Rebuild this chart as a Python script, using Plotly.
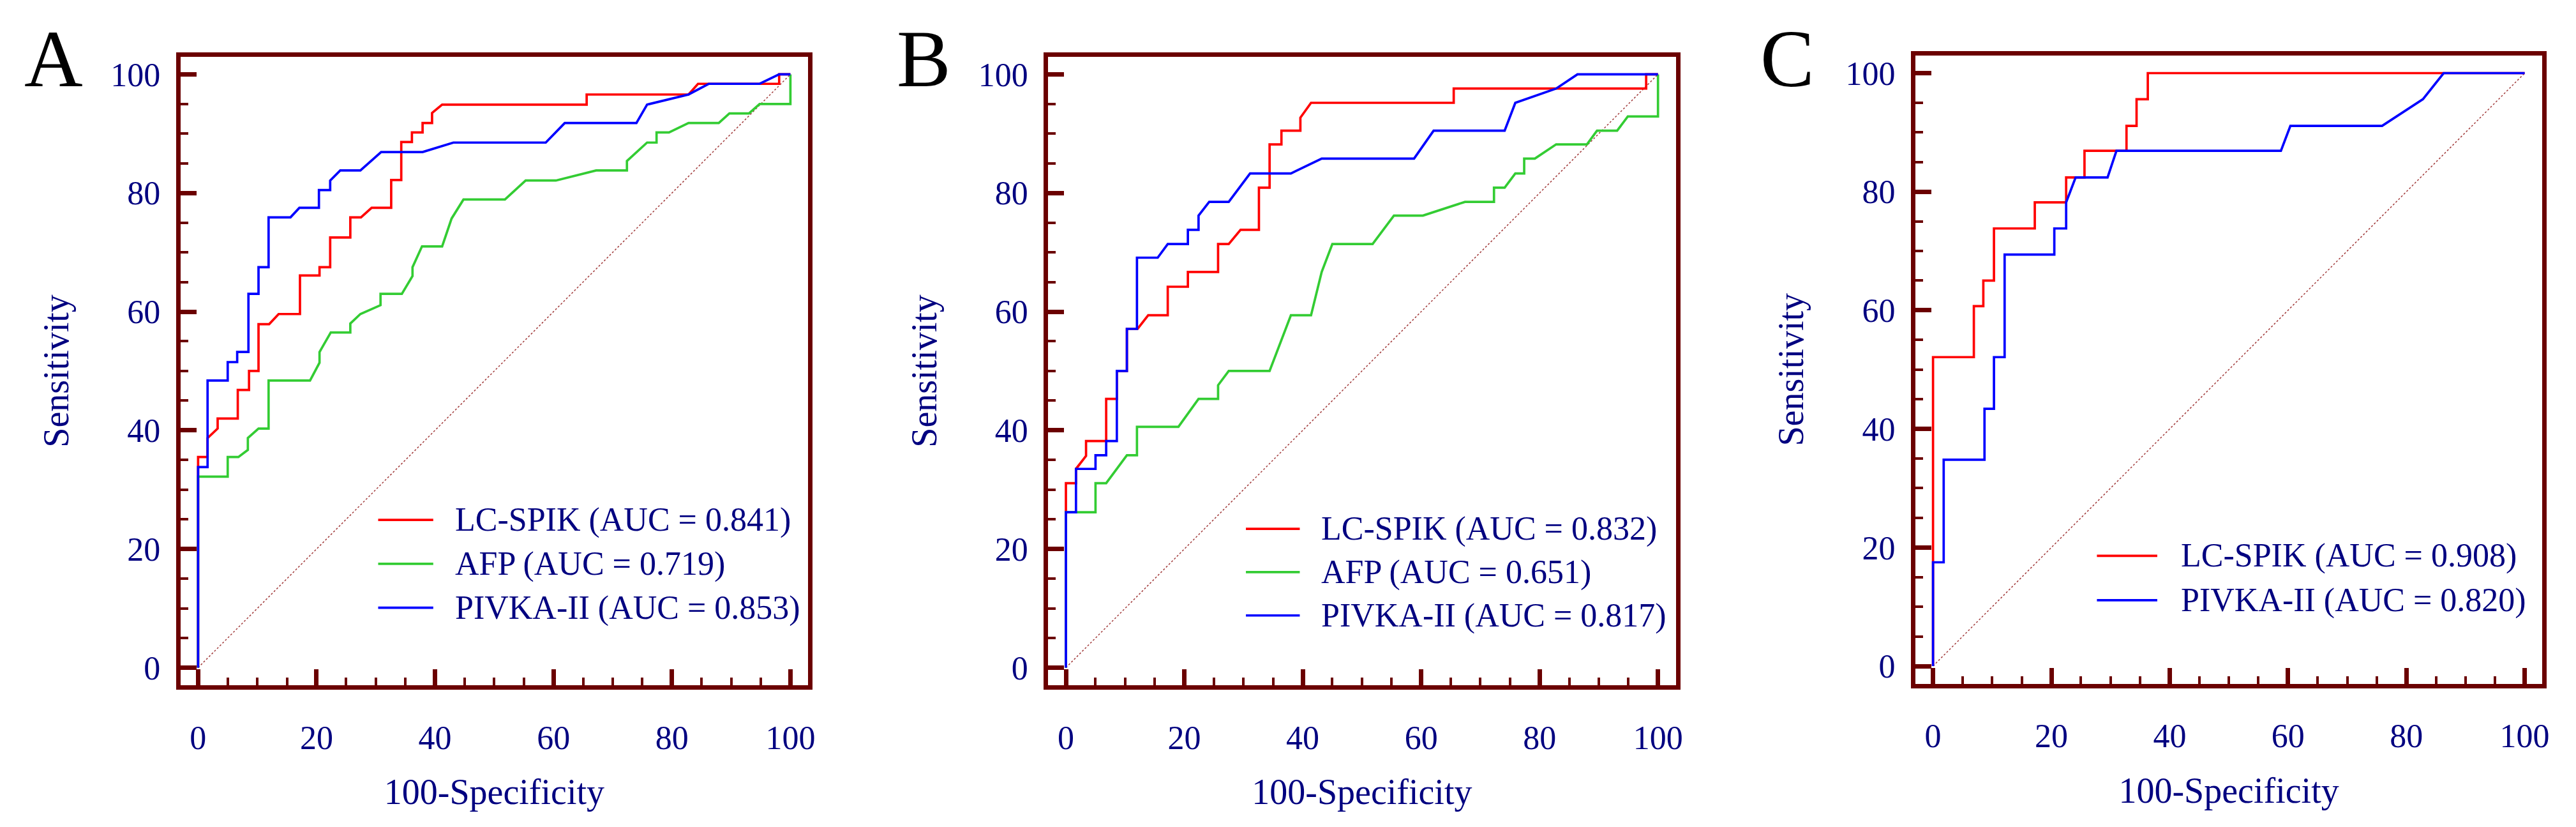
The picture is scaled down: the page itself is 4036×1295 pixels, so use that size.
import plotly.graph_objects as go

# ------------------------------------------------------------------ data
# Panel A
A_lc_x = [0, 0, 1.6, 1.6, 3.3, 3.3, 6.7, 6.7, 8.6, 8.6, 10.2, 10.2, 12.0, 13.6, 17.2, 17.2, 20.5, 20.5, 22.3, 22.3,
          25.7, 25.7, 27.5, 29.3, 32.6, 32.6, 34.3, 34.3, 36.1, 36.1, 37.9, 37.9, 39.5, 39.5, 41.2, 65.6, 65.6,
          82.8, 84.4, 98.1, 98.1, 100]
A_lc_y = [0, 35.5, 35.5, 38.7, 40.3, 42.0, 42.0, 46.8, 46.8, 50.0, 50.0, 57.9, 57.9, 59.6, 59.6, 66.1, 66.1, 67.5,
          67.5, 72.5, 72.5, 75.9, 75.9, 77.5, 77.5, 82.2, 82.2, 88.6, 88.6, 90.2, 90.2, 91.8, 91.8, 93.5, 94.9,
          94.9, 96.6, 96.6, 98.4, 98.4, 100, 100]
A_afp_x = [0, 0, 5.0, 5.0, 6.8, 8.4, 8.4, 10.2, 11.9, 11.9, 18.9, 20.5, 20.5, 22.4, 25.7, 25.7, 27.4, 30.8, 30.8,
           34.4, 36.2, 36.2, 37.8, 41.2, 42.8, 44.8, 51.8, 55.3, 60.4, 67.2, 72.4, 72.4, 75.8, 77.4, 77.4, 79.5,
           82.8, 87.9, 89.7, 93.0, 94.8, 100, 100]
A_afp_y = [0, 32.2, 32.2, 35.5, 35.5, 36.7, 38.7, 40.3, 40.3, 48.4, 48.4, 51.4, 53.2, 56.5, 56.5, 58.0, 59.6, 61.1,
           63.0, 63.0, 66.0, 67.5, 71.0, 71.0, 75.7, 78.9, 78.9, 82.1, 82.1, 83.8, 83.8, 85.4, 88.5, 88.5, 90.2,
           90.2, 91.8, 91.8, 93.4, 93.4, 95.0, 95.0, 100]
A_piv_x = [0, 0, 1.6, 1.6, 5.0, 5.0, 6.6, 6.6, 8.5, 8.5, 10.2, 10.2, 11.9, 11.9, 15.6, 17.1, 20.4, 20.4, 22.3, 22.3,
           24.0, 27.4, 30.9, 37.9, 43.1, 58.7, 61.9, 74.0, 75.8, 82.8, 86.2, 94.8, 98.1, 100]
A_piv_y = [0, 33.8, 33.8, 48.4, 48.4, 51.5, 51.5, 53.2, 53.2, 63.0, 63.0, 67.5, 67.5, 75.9, 75.9, 77.5, 77.5, 80.5,
           80.5, 82.1, 83.8, 83.8, 86.9, 86.9, 88.5, 88.5, 91.8, 91.8, 94.9, 96.6, 98.4, 98.4, 100, 100]

# Panel B
B_lc_x = [0, 0, 1.7, 1.7, 3.4, 3.4, 6.8, 6.8, 8.6, 8.6, 10.3, 10.3, 12.1, 13.9, 17.2, 17.2, 20.6, 20.6, 25.7, 25.7,
          27.5, 29.5, 32.6, 32.6, 34.4, 34.4, 36.4, 36.4, 39.6, 39.6, 41.4, 65.5, 65.5, 98.0, 98.0, 100]
B_lc_y = [0, 31.1, 31.1, 33.5, 35.7, 38.2, 38.2, 45.3, 45.3, 50.0, 50.0, 57.1, 57.1, 59.4, 59.4, 64.2, 64.2, 66.7,
          66.7, 71.4, 71.4, 73.8, 73.8, 80.9, 80.9, 88.2, 88.2, 90.5, 90.5, 92.7, 95.2, 95.2, 97.6, 97.6, 100, 100]
B_afp_x = [0, 0, 5.0, 5.0, 6.8, 10.3, 12.0, 12.0, 19.0, 22.4, 25.7, 25.7, 27.5, 34.4, 38.0, 41.4, 43.2, 45.0, 51.8,
           55.4, 60.3, 67.4, 72.3, 72.3, 74.1, 75.9, 77.4, 77.4, 79.2, 82.8, 88.0, 89.7, 93.1, 94.9, 100, 100]
B_afp_y = [0, 26.2, 26.2, 31.1, 31.1, 35.8, 35.8, 40.6, 40.6, 45.3, 45.3, 47.6, 50.0, 50.0, 59.4, 59.4, 66.7, 71.4,
           71.4, 76.2, 76.2, 78.5, 78.5, 80.9, 80.9, 83.3, 83.3, 85.8, 85.8, 88.2, 88.2, 90.5, 90.5, 92.9, 92.9, 100]
B_piv_x = [0, 0, 1.7, 1.7, 5.0, 5.0, 6.8, 6.8, 8.6, 8.6, 10.3, 10.3, 12.0, 12.0, 15.5, 17.2, 20.6, 20.6, 22.4, 22.4,
           24.2, 27.5, 31.1, 38.0, 43.2, 58.8, 62.1, 74.1, 75.9, 82.8, 86.4, 100]
B_piv_y = [0, 26.2, 26.2, 33.5, 33.5, 35.8, 35.8, 38.2, 38.2, 50.0, 50.0, 57.1, 57.1, 69.1, 69.1, 71.4, 71.4, 73.8,
           73.8, 76.2, 78.5, 78.5, 83.3, 83.3, 85.8, 85.8, 90.5, 90.5, 95.2, 97.6, 100, 100]

# Panel C
C_lc_x = [0, 0, 6.9, 6.9, 8.5, 8.5, 10.3, 10.3, 17.2, 17.2, 22.5, 22.5, 25.6, 25.6, 32.7, 32.7, 34.4, 34.4, 36.3,
          36.3, 100]
C_lc_y = [0, 52.1, 52.1, 60.7, 60.7, 65.0, 65.0, 73.8, 73.8, 78.2, 78.2, 82.4, 82.4, 86.9, 86.9, 91.1, 91.1, 95.6,
          95.6, 100, 100]
C_piv_x = [0, 0, 1.8, 1.8, 8.7, 8.7, 10.3, 10.3, 12.1, 12.1, 20.5, 20.5, 22.5, 22.5, 24.1, 29.5, 31.0, 58.8, 60.4,
           75.9, 82.8, 86.3, 100]
C_piv_y = [0, 17.5, 17.5, 34.8, 34.8, 43.4, 43.4, 52.1, 52.1, 69.4, 69.4, 73.8, 73.8, 78.2, 82.4, 82.4, 86.9, 86.9,
           91.1, 91.1, 95.6, 100, 100]

A_labels = ["LC-SPIK (AUC = 0.841)", "AFP (AUC = 0.719)", "PIVKA-II (AUC = 0.853)"]
B_labels = ["LC-SPIK (AUC = 0.832)", "AFP (AUC = 0.651)", "PIVKA-II (AUC = 0.817)"]
C_labels = ["LC-SPIK (AUC = 0.908)", "PIVKA-II (AUC = 0.820)"]

diag_x = [0, 100]
diag_y = [0, 100]
tick_vals = [0, 20, 40, 60, 80, 100]
panel_letters = ["A", "B", "C"]
x_title = "100-Specificity"
y_title = "Sensitivity"

# ------------------------------------------------------------------ style
W, H = 4036, 1295
RED, GREEN, BLUE = "#FF0000", "#33CC33", "#0000FF"
FRAME = "#6B0000"
NAVY = "#000080"
FONT = "Liberation Serif"
LW = 3.7

# plot-area inner edges in pixels: (left, right, top, bottom)
boxes = [(283.3, 1269.7, 88.6, 1074.2),
         (1646.7, 2632.7, 88.6, 1074.2),
         (3009.0, 3994.3, 86.7, 1071.7)]

panels = [
    dict(series=[(A_lc_x, A_lc_y, RED), (A_afp_x, A_afp_y, GREEN), (A_piv_x, A_piv_y, BLUE)],
         labels=A_labels, colors=[RED, GREEN, BLUE],
         leg=dict(x0=30.4, x1=39.7, xt=43.2, rows=[24.9, 17.5, 10.1])),
    dict(series=[(B_lc_x, B_lc_y, RED), (B_afp_x, B_afp_y, GREEN), (B_piv_x, B_piv_y, BLUE)],
         labels=B_labels, colors=[RED, GREEN, BLUE],
         leg=dict(x0=30.4, x1=39.5, xt=42.9, rows=[23.4, 16.1, 8.8])),
    dict(series=[(C_lc_x, C_lc_y, RED), (C_piv_x, C_piv_y, BLUE)],
         labels=C_labels, colors=[RED, BLUE],
         leg=dict(x0=27.7, x1=37.9, xt=41.7, rows=[18.6, 11.1])),
]
letter_x = [84, 1451, 2808]
letter_y = 92

fig = go.Figure()
shapes = []
annotations = []
layout = dict(width=W, height=H, margin=dict(l=0, r=0, t=0, b=0),
              paper_bgcolor="white", plot_bgcolor="white", showlegend=False)

for i, p in enumerate(panels):
    sfx = "" if i == 0 else str(i + 1)
    xr, yr = "x" + sfx, "y" + sfx
    l, r, t, b = boxes[i]
    common = dict(range=[-3, 103], showgrid=False, zeroline=False, showline=True, mirror=True,
                  linecolor=FRAME, linewidth=7, ticks="inside", ticklen=25, tickwidth=6.5,
                  tickcolor=FRAME, tickvals=tick_vals,
                  minor=dict(ticks="inside", tick0=0, dtick=5, ticklen=12, tickwidth=4,
                             tickcolor=FRAME, showgrid=False),
                  tickfont=dict(family=FONT, size=52, color=NAVY), fixedrange=True)
    layout["xaxis" + sfx] = dict(common, domain=[l / W, r / W], anchor=yr,
                                 ticklabelstandoff=30,
                                 title=dict(text=x_title, font=dict(family=FONT, size=56, color=NAVY),
                                            standoff=40))
    layout["yaxis" + sfx] = dict(common, domain=[(H - b) / H, (H - t) / H], anchor=xr,
                                 ticklabelstandoff=14,
                                 title=dict(text=y_title, font=dict(family=FONT, size=56, color=NAVY),
                                            standoff=50))
    # chance diagonal
    fig.add_trace(go.Scatter(x=diag_x, y=diag_y, mode="lines", xaxis=xr, yaxis=yr,
                             line=dict(color="#A03838", width=1.5, dash="dot"), hoverinfo="skip"))
    for (sx, sy, col), name in zip(p["series"], p["labels"]):
        fig.add_trace(go.Scatter(x=sx, y=sy, mode="lines", xaxis=xr, yaxis=yr, name=name,
                                 line=dict(color=col, width=LW)))
    lg = p["leg"]
    for name, col, ry in zip(p["labels"], p["colors"], lg["rows"]):
        shapes.append(dict(type="line", xref=xr, yref=yr, x0=lg["x0"], x1=lg["x1"], y0=ry, y1=ry,
                           line=dict(color=col, width=LW)))
        annotations.append(dict(xref=xr, yref=yr, x=lg["xt"], y=ry, text=name, showarrow=False,
                                xanchor="left", yanchor="middle",
                                font=dict(family=FONT, size=52, color=NAVY)))
    annotations.append(dict(xref="paper", yref="paper", x=letter_x[i] / W, y=1 - letter_y / H,
                            text=panel_letters[i], showarrow=False, xanchor="center", yanchor="middle",
                            font=dict(family=FONT, size=127, color="black")))

layout["shapes"] = shapes
layout["annotations"] = annotations
fig.update_layout(**layout)

fig.write_html("out.html", config={"displayModeBar": False},
               post_script="document.body.style.margin='0';document.body.style.overflow='hidden';")
